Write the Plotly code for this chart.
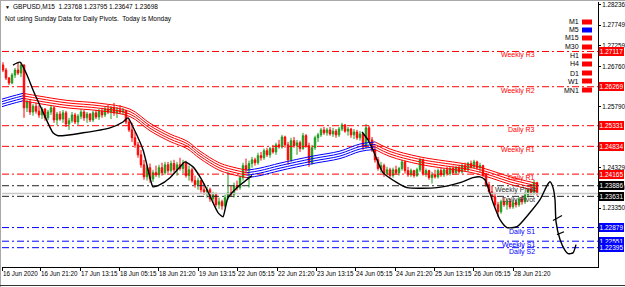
import plotly.graph_objects as go

# ---------------- data ----------------
x_tick_pos = [0, 38, 78, 117, 156, 196, 235, 275, 314, 353, 393, 432, 471, 511]
x_tick_labels = ["16 Jun 2020", "16 Jun 21:20", "17 Jun 13:15", "18 Jun 05:15", "18 Jun 21:20",
                 "19 Jun 13:15", "22 Jun 05:15", "22 Jun 21:20", "23 Jun 13:15", "24 Jun 05:15",
                 "24 Jun 21:20", "25 Jun 13:15", "26 Jun 05:15", "28 Jun 21:20"]
price_ticks = [1.28236, 1.27749, 1.27259, 1.26760, 1.25790, 1.24329, 1.23840, 1.23350]
price_tick_labels = ["1.28236", "1.27749", "1.27259", "1.26760", "1.25790", "1.24329", "1.23840", "1.23350"]
bottom_tick = 1.21880

first_open = 1.2679
highs = [1.2686, 1.2672, 1.2650, 1.2660, 1.2672, 1.2684, 1.2686, 1.2681, 1.2595, 1.2597,
         1.2585, 1.2588, 1.2583, 1.2578, 1.2576, 1.2571, 1.2583, 1.2580, 1.2566, 1.2568,
         1.2571, 1.2569, 1.2552, 1.2566, 1.2564, 1.2561, 1.2573, 1.2571, 1.2566, 1.2564,
         1.2569, 1.2571, 1.2573, 1.2576, 1.2578, 1.2583, 1.2580, 1.2588, 1.2578, 1.2583,
         1.2576, 1.2571, 1.2549, 1.2540, 1.2518, 1.2494, 1.2475, 1.2451, 1.2437, 1.2442,
         1.2427, 1.2437, 1.2439, 1.2444, 1.2446, 1.2446, 1.2449, 1.2451, 1.2446, 1.2456,
         1.2451, 1.2449, 1.2437, 1.2432, 1.2413, 1.2408, 1.2403, 1.2394, 1.2386, 1.2384,
         1.2374, 1.2372, 1.2360, 1.2355, 1.2367, 1.2422, 1.2389, 1.2396, 1.2401, 1.2413,
         1.2444, 1.2454, 1.2449, 1.2458, 1.2456, 1.2468, 1.2470, 1.2478, 1.2480, 1.2482,
         1.2487, 1.2492, 1.2499, 1.2511, 1.2509, 1.2494, 1.2504, 1.2506, 1.2499, 1.2497,
         1.2516, 1.2513, 1.2492, 1.2487, 1.2509, 1.2516, 1.2528, 1.2530, 1.2528, 1.2530,
         1.2528, 1.2525, 1.2530, 1.2540, 1.2537, 1.2530, 1.2528, 1.2525, 1.2523, 1.2520,
         1.2516, 1.2537, 1.2533, 1.2506, 1.2487, 1.2458, 1.2446, 1.2442, 1.2434, 1.2432,
         1.2432, 1.2437, 1.2434, 1.2451, 1.2449, 1.2434, 1.2430, 1.2427, 1.2432, 1.2456,
         1.2454, 1.2430, 1.2427, 1.2422, 1.2427, 1.2430, 1.2432, 1.2430, 1.2434, 1.2434,
         1.2437, 1.2437, 1.2439, 1.2442, 1.2444, 1.2446, 1.2449, 1.2451, 1.2449, 1.2444,
         1.2439, 1.2420, 1.2398, 1.2389, 1.2372, 1.2350, 1.2355, 1.2360, 1.2357, 1.2357,
         1.2355, 1.2355, 1.2362, 1.2365, 1.2374, 1.2384, 1.2391, 1.2403, 1.2398]
lows = [1.2662, 1.2643, 1.2631, 1.2633, 1.2648, 1.2655, 1.2650, 1.2552, 1.2566, 1.2559,
        1.2557, 1.2562, 1.2552, 1.2549, 1.2545, 1.2547, 1.2559, 1.2540, 1.2535, 1.2545,
        1.2540, 1.2530, 1.2523, 1.2540, 1.2537, 1.2535, 1.2549, 1.2545, 1.2540, 1.2542,
        1.2542, 1.2549, 1.2547, 1.2552, 1.2554, 1.2561, 1.2549, 1.2557, 1.2552, 1.2561,
        1.2559, 1.2537, 1.2518, 1.2494, 1.2480, 1.2456, 1.2432, 1.2403, 1.2401, 1.2396,
        1.2398, 1.2410, 1.2408, 1.2413, 1.2415, 1.2418, 1.2420, 1.2420, 1.2413, 1.2425,
        1.2418, 1.2408, 1.2401, 1.2396, 1.2384, 1.2379, 1.2372, 1.2367, 1.2360, 1.2350,
        1.2348, 1.2338, 1.2333, 1.2331, 1.2336, 1.2355, 1.2362, 1.2360, 1.2377, 1.2379,
        1.2401, 1.2420, 1.2384, 1.2432, 1.2437, 1.2439, 1.2449, 1.2451, 1.2458, 1.2456,
        1.2466, 1.2463, 1.2478, 1.2478, 1.2480, 1.2439, 1.2446, 1.2480, 1.2463, 1.2470,
        1.2475, 1.2480, 1.2434, 1.2439, 1.2475, 1.2494, 1.2506, 1.2511, 1.2509, 1.2509,
        1.2506, 1.2504, 1.2506, 1.2520, 1.2516, 1.2509, 1.2504, 1.2501, 1.2499, 1.2497,
        1.2475, 1.2478, 1.2494, 1.2470, 1.2444, 1.2425, 1.2420, 1.2410, 1.2413, 1.2408,
        1.2408, 1.2415, 1.2413, 1.2425, 1.2418, 1.2410, 1.2410, 1.2408, 1.2410, 1.2422,
        1.2413, 1.2410, 1.2403, 1.2394, 1.2406, 1.2406, 1.2410, 1.2410, 1.2413, 1.2413,
        1.2415, 1.2415, 1.2418, 1.2418, 1.2422, 1.2422, 1.2430, 1.2430, 1.2427, 1.2420,
        1.2410, 1.2386, 1.2369, 1.2355, 1.2338, 1.2314, 1.2321, 1.2338, 1.2331, 1.2333,
        1.2333, 1.2336, 1.2338, 1.2343, 1.2345, 1.2360, 1.2367, 1.2367, 1.2365]
closes = [1.2667, 1.2648, 1.2636, 1.2655, 1.2667, 1.2660, 1.2679, 1.2576, 1.2590, 1.2566,
          1.2580, 1.2568, 1.2559, 1.2573, 1.2552, 1.2566, 1.2576, 1.2547, 1.2561, 1.2549,
          1.2564, 1.2537, 1.2545, 1.2559, 1.2542, 1.2556, 1.2566, 1.2552, 1.2561, 1.2547,
          1.2564, 1.2554, 1.2568, 1.2559, 1.2573, 1.2566, 1.2576, 1.2564, 1.2571, 1.2566,
          1.2569, 1.2542, 1.2523, 1.2504, 1.2487, 1.2463, 1.2439, 1.2410, 1.2432, 1.2405,
          1.2420, 1.2415, 1.2432, 1.2420, 1.2439, 1.2425, 1.2442, 1.2427, 1.2439, 1.2430,
          1.2444, 1.2413, 1.2427, 1.2401, 1.2391, 1.2401, 1.2379, 1.2374, 1.2379, 1.2357,
          1.2367, 1.2343, 1.2350, 1.2340, 1.2360, 1.2372, 1.2367, 1.2389, 1.2384, 1.2408,
          1.2437, 1.2427, 1.2442, 1.2451, 1.2444, 1.2461, 1.2456, 1.2473, 1.2463, 1.2478,
          1.2470, 1.2487, 1.2482, 1.2506, 1.2487, 1.2451, 1.2497, 1.2485, 1.2492, 1.2478,
          1.2509, 1.2485, 1.2444, 1.2480, 1.2504, 1.2511, 1.2523, 1.2516, 1.2523, 1.2513,
          1.2520, 1.2511, 1.2525, 1.2535, 1.2520, 1.2525, 1.2511, 1.2518, 1.2504, 1.2513,
          1.2482, 1.2528, 1.2499, 1.2475, 1.2451, 1.2430, 1.2437, 1.2418, 1.2427, 1.2413,
          1.2427, 1.2420, 1.2430, 1.2446, 1.2425, 1.2415, 1.2425, 1.2413, 1.2427, 1.2451,
          1.2418, 1.2425, 1.2408, 1.2415, 1.2410, 1.2425, 1.2415, 1.2427, 1.2418, 1.2430,
          1.2420, 1.2432, 1.2422, 1.2437, 1.2427, 1.2442, 1.2434, 1.2446, 1.2432, 1.2437,
          1.2415, 1.2391, 1.2374, 1.2362, 1.2343, 1.2326, 1.2350, 1.2343, 1.2350, 1.2338,
          1.2348, 1.2343, 1.2357, 1.2350, 1.2367, 1.2379, 1.2372, 1.2396, 1.2370]
bar_first, bar_step = 1, 3

ribbon_x = [0, 10, 21, 38, 65, 98, 128, 148, 168, 185, 198, 218, 235, 245,
            258, 278, 311, 338, 358, 373, 388, 418, 468, 488, 508, 528, 536]
ribbon_mid = [1.2588, 1.2595, 1.2602, 1.2595, 1.2585, 1.2578, 1.2564, 1.2530, 1.2504, 1.2487,
              1.2463, 1.2434, 1.2422, 1.2417, 1.2422, 1.2434, 1.2451, 1.2463, 1.2480, 1.2485,
              1.2468, 1.2449, 1.2430, 1.2417, 1.2401, 1.2389, 1.2384]
ribbon_up = [1, 1, 1, 0, 0, 0, 0, 0, 0, 0, 0, 0, 0, 0, 1, 1, 1, 1, 1, 1, 0, 0, 0, 0, 0, 0, 0]
ribbon_offsets = [-0.0009, -0.0003, 0.0003, 0.0009]

curve1_x = [11, 18, 25, 31, 41, 51, 56, 81, 108, 121, 126, 131, 141, 148, 151, 158, 168, 178,
            183, 191, 198, 205, 211, 216, 221, 223, 226, 235, 241, 250]
curve1_y = [1.2679, 1.2686, 1.2655, 1.2619, 1.2566, 1.2516, 1.2509, 1.2516, 1.2528, 1.2542,
            1.2552, 1.2530, 1.2475, 1.2408, 1.2386, 1.2391, 1.2408, 1.2434, 1.2446, 1.2434,
            1.2410, 1.2379, 1.2348, 1.2324, 1.2314, 1.2331, 1.2360, 1.2384, 1.2396, 1.2413]
curve2_x = [360, 366, 371, 381, 395, 405, 435, 458, 471, 478, 483, 491, 498, 505, 515, 528,
            538, 545, 548, 551, 553, 554, 558, 563, 566, 571, 574]
curve2_y = [1.2518, 1.2499, 1.2475, 1.2420, 1.2396, 1.2384, 1.2384, 1.2396, 1.2408, 1.2410,
            1.2403, 1.2348, 1.2307, 1.2288, 1.2290, 1.2324, 1.2355, 1.2389, 1.2398, 1.2384,
            1.2355, 1.2302, 1.2259, 1.2233, 1.2225, 1.2227, 1.2247]
stroke_x = [[551, 560], [555, 562]]
stroke_y = [[1.2305, 1.2317], [1.2271, 1.2278]]

level_names = ["Weekly R3", "Weekly R2", "Daily R3", "Weekly R1", "Daily R1",
               "Weekly Pivot", "Daily Pivot", "Daily S1", "Weekly S1", "Daily S2"]
level_values = [1.27117, 1.26269, 1.25331, 1.24834, 1.24165, 1.23886, 1.23631, 1.22879, 1.22551, 1.22395]
level_kind = ["R", "R", "R", "R", "R", "P", "P", "S", "S", "S"]
bid_price = 1.23698

tf_names = ["M1", "M5", "M15", "M30", "H1", "H4", "D1", "W1", "MN1"]
tf_state = ["down", "up", "down", "down", "down", "down", "down", "down", "down"]
tf_rows_px = [22, 30, 38, 47, 56, 64, 73, 81, 90]

title_text = "GBPUSD,M15  1.23768 1.23795 1.23647 1.23698"
note_text = "Not using Sunday Data for Daily Pivots.  Today is Monday"

# ---------------- styling ----------------
W, H = 625, 287
L, R, T, B = 2, 27, 2, 20
PW, PH = W - L - R, H - T - B
FONT = "Liberation Sans"
RED, BLUE, GREEN = "#ff0000", "#0000ff", "#1c9c1c"
kind_line = {"R": RED, "P": "#222222", "S": BLUE}
kind_box = {"R": RED, "P": "#000000", "S": BLUE}


def px_x(px):
    return (px - L) / PW


def px_y(py):
    return (H - B - py) / PH


fig = go.Figure()

# pivot levels
for name, v, k in zip(level_names, level_values, level_kind):
    fig.add_trace(go.Scatter(x=[0, PW], y=[v, v], mode="lines", hoverinfo="skip",
                             line=dict(color=kind_line[k], width=1, dash="7px,3px,2px,3px")))

# bid line
fig.add_trace(go.Scatter(x=[0, PW], y=[bid_price, bid_price], mode="lines", hoverinfo="skip",
                         line=dict(color="#c8c8c8", width=1.5)))

# moving-average ribbon
runs = []
start = 0
for i in range(1, len(ribbon_x) + 1):
    if i == len(ribbon_x) or ribbon_up[i] != ribbon_up[start]:
        runs.append((max(start - 1, 0), i - 1, ribbon_up[start]))
        start = i
for a, b, up in runs:
    for off in ribbon_offsets:
        fig.add_trace(go.Scatter(
            x=ribbon_x[a:b + 1], y=[m + off for m in ribbon_mid[a:b + 1]], mode="lines",
            hoverinfo="skip", line=dict(color=BLUE if up else RED, width=1, shape="spline")))

# candles
opens = [first_open] + closes[:-1]
bar_x = [bar_first + bar_step * i for i in range(len(closes))]
fig.add_trace(go.Candlestick(
    x=bar_x, open=opens, high=highs, low=lows, close=closes,
    increasing=dict(line=dict(color=GREEN, width=1), fillcolor=GREEN),
    decreasing=dict(line=dict(color=RED, width=1), fillcolor=RED),
    whiskerwidth=0, hoverinfo="skip"))

# hand drawn curve
for cx, cy in [(curve1_x, curve1_y), (curve2_x, curve2_y)]:
    fig.add_trace(go.Scatter(x=cx, y=cy, mode="lines", hoverinfo="skip",
                             line=dict(color="#000000", width=1.4, shape="spline", smoothing=0.6)))
for sx, sy in zip(stroke_x, stroke_y):
    fig.add_trace(go.Scatter(x=sx, y=sy, mode="lines", hoverinfo="skip",
                             line=dict(color="#000000", width=1.2)))

ann = []
shapes = []
# level labels and price boxes
for name, v, k in zip(level_names, level_values, level_kind):
    ann.append(dict(x=535, y=v, xref="x", yref="y", text=name, showarrow=False,
                    xanchor="right", yanchor="middle", yshift=-4,
                    font=dict(family=FONT, size=7, color=kind_line[k] if k != "P" else "#333333")))
    ann.append(dict(x=1, y=v, xref="paper", yref="y", text=f"{v:.5f}", showarrow=False,
                    xanchor="left", yanchor="middle", xshift=1, bgcolor=kind_box[k],
                    borderpad=0, borderwidth=0, width=25, height=9, align="center",
                    font=dict(family=FONT, size=6.5, color="#ffffff")))
ann.append(dict(x=1, y=bottom_tick, xref="paper", yref="y", text="- " + f"{bottom_tick:.5f}",
                showarrow=False, xanchor="left", yanchor="middle", xshift=0,
                font=dict(family=FONT, size=6.5, color="#000000")))

# timeframe panel
for name, st, py in zip(tf_names, tf_state, tf_rows_px):
    ann.append(dict(x=px_x(581), y=px_y(py), xref="paper", yref="paper", text=name, showarrow=False,
                    xanchor="right", yanchor="middle", font=dict(family=FONT, size=7, color="#000000")))
    shapes.append(dict(type="rect", xref="paper", yref="paper", x0=px_x(582), x1=px_x(592),
                       y0=px_y(py + 2.5), y1=px_y(py - 2.5), fillcolor=BLUE if st == "up" else RED,
                       line=dict(width=0)))

# header
ann.append(dict(x=px_x(3), y=px_y(7), xref="paper", yref="paper", text="▼", showarrow=False,
                xanchor="left", yanchor="middle", font=dict(family=FONT, size=5, color="#000000")))
ann.append(dict(x=px_x(11), y=px_y(7), xref="paper", yref="paper", text=title_text, showarrow=False,
                xanchor="left", yanchor="middle", font=dict(family=FONT, size=6.5, color="#000000")))
ann.append(dict(x=px_x(3), y=px_y(19), xref="paper", yref="paper", text=note_text, showarrow=False,
                xanchor="left", yanchor="middle", font=dict(family=FONT, size=6.5, color="#000000")))

# window borders
shapes.append(dict(type="line", xref="paper", yref="paper", x0=px_x(0.5), x1=px_x(0.5),
                   y0=px_y(0), y1=px_y(287), line=dict(color="#a8a8a8", width=1)))
shapes.append(dict(type="line", xref="paper", yref="paper", x0=px_x(0), x1=px_x(625),
                   y0=px_y(0.5), y1=px_y(0.5), line=dict(color="#a8a8a8", width=1)))
shapes.append(dict(type="line", xref="paper", yref="paper", x0=px_x(0), x1=px_x(625),
                   y0=px_y(285.5), y1=px_y(285.5), line=dict(color="#333333", width=1)))

fig.update_layout(
    width=W, height=H, margin=dict(l=L, r=R, t=T, b=B, autoexpand=False),
    paper_bgcolor="#ffffff", plot_bgcolor="#ffffff", showlegend=False,
    font=dict(family=FONT, size=7, color="#000000"),
    annotations=ann, shapes=shapes,
    xaxis=dict(range=[0, PW], showgrid=False, zeroline=False, showline=True, linecolor="#000000",
               linewidth=1, ticks="outside", ticklen=3, tickcolor="#000000", tickangle=0,
               tickvals=x_tick_pos, ticktext=x_tick_labels, ticklabelposition="outside right",
               tickfont=dict(family=FONT, size=6.3, color="#000000"), automargin=False,
               rangeslider=dict(visible=False), fixedrange=True),
    yaxis=dict(range=[1.21930, 1.28308], side="right", showgrid=False, zeroline=False,
               showline=True, linecolor="#000000", linewidth=1, ticks="outside", ticklen=2,
               tickcolor="#000000", tickvals=price_ticks, ticktext=price_tick_labels,
               automargin=False, ticklabelstandoff=0,
               tickfont=dict(family=FONT, size=6.3, color="#000000"), fixedrange=True),
)

fig.write_html("out.html")
